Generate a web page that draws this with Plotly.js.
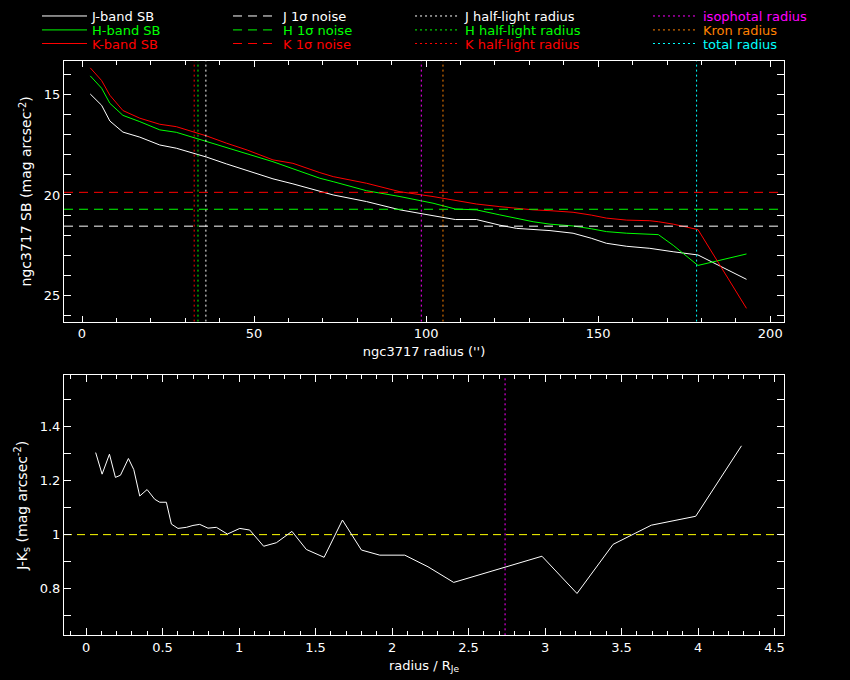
<!DOCTYPE html>
<html>
<head>
<meta charset="utf-8">
<script src="https://cdn.plot.ly/plotly-3.0.1.min.js"></script>
<style>
  body { margin: 0; background: #000; }
  #chart { width: 850px; height: 680px; }
</style>
</head>
<body>
<div id="chart"></div>
<script>
// surface brightness profiles of ngc3717 (radius in arcsec)
const radius = [2.4, 5.7, 8.1, 11.9, 16.8, 22.6, 27.4, 32.3, 36.2, 42.0, 48.0, 55.5, 61.3, 69.1, 73.0, 82.7,
    92.4, 102.0, 108.5, 114.6, 121.4, 126.3, 131.1, 136.0, 142.7, 148.0, 152.4, 158.3, 165.0, 167.5, 171.8, 179.0, 193.1];
const jSB = [14.99, 15.55, 16.33, 16.88, 17.13, 17.52, 17.68, 17.92, 18.12, 18.46, 18.80, 19.20, 19.45, 19.82, 20.00, 20.33,
    20.74, 21.03, 21.22, 21.22, 21.50, 21.66, 21.72, 21.77, 21.90, 22.15, 22.40, 22.55, 22.65, 22.70, 22.82, 22.98, 24.19];
const hSB = [14.09, 14.70, 15.45, 16.05, 16.36, 16.77, 16.89, 17.14, 17.35, 17.63, 17.95, 18.35, 18.70, 19.17, 19.34, 19.79,
    20.08, 20.41, 20.70, 20.74, 20.99, 21.16, 21.33, 21.45, 21.54, 21.68, 21.82, 21.90, 21.95, 21.97, 22.50, 23.50, 22.93];
const kSB = [13.69, 14.32, 15.05, 15.81, 16.19, 16.49, 16.61, 16.86, 17.07, 17.43, 17.77, 18.26, 18.43, 18.89, 19.09, 19.42,
    19.84, 20.08, 20.28, 20.45, 20.58, 20.66, 20.74, 20.78, 20.86, 21.00, 21.15, 21.25, 21.28, 21.33, 21.45, 21.72, 25.63];

// 1 sigma noise levels (J, H, K)
const noiseLevels = [21.55, 20.71, 19.87];
// half-light radii (J, H, K)
const halfLight = [36.0, 33.7, 32.6];
const isoRadius = 98.6;
const kronRadius = 104.9;
const totalRadius = 178.6;

// J-Ks colour profile vs radius / R_Je
const rNorm = [0.063, 0.105, 0.153, 0.192, 0.225, 0.277, 0.312, 0.351, 0.399, 0.449, 0.482, 0.525, 0.558, 0.601,
    0.656, 0.699, 0.743, 0.797, 0.852, 0.924, 1.005, 1.070, 1.161, 1.244, 1.346, 1.440, 1.556, 1.676, 1.800,
    1.920, 2.083, 2.235, 2.403, 2.980, 3.209, 3.445, 3.695, 3.985, 4.284];
const jkColour = [1.304, 1.224, 1.298, 1.212, 1.220, 1.282, 1.241, 1.143, 1.167, 1.131, 1.120, 1.120, 1.039, 1.023,
    1.027, 1.034, 1.038, 1.024, 1.027, 1.002, 1.023, 1.017, 0.957, 0.970, 1.012, 0.945, 0.916, 1.054, 0.943,
    0.924, 0.924, 0.881, 0.823, 0.920, 0.782, 0.964, 1.035, 1.068, 1.329];
const colourRef = 1.0;

const bandNames = ['J', 'H', 'K'];
const bandColors = ['#ffffff', '#00ff00', '#ff0000'];

// axis ranges
const xRangeTop = [-5.23, 204];
const yRangeTop = [26.29, 13.36];
const xRangeBot = [-0.144, 4.562];
const yRangeBot = [0.627, 1.59];

// legend grid: 4 columns x 3 rows, one small legend per entry (paper coords)
const legendColX = [-0.0375, 0.2278, 0.4806, 0.8111];
const legendRowY = [0.9985, 0.978, 0.958];

function label(text, color) {
    return `<span style="color:${color}">${text}</span>`;
}

function legendId(col, row) {
    const n = col * 3 + row + 1;
    return n === 1 ? 'legend' : 'legend' + n;
}

const traces = [];
const sbData = [jSB, hSB, kSB];

// column 1: SB profiles
bandNames.forEach((b, i) => {
    traces.push({
        x: radius, y: sbData[i], type: 'scatter', mode: 'lines',
        line: {color: bandColors[i], width: 1},
        name: label(b + '-band SB', bandColors[i]),
        legend: legendId(0, i), xaxis: 'x', yaxis: 'y'
    });
});
// column 2: noise levels
bandNames.forEach((b, i) => {
    traces.push({
        x: xRangeTop, y: [noiseLevels[i], noiseLevels[i]], type: 'scatter', mode: 'lines',
        line: {color: bandColors[i], width: 1, dash: '9px,6px'},
        name: label(b + ' 1σ noise', bandColors[i]),
        legend: legendId(1, i), xaxis: 'x', yaxis: 'y'
    });
});
// column 3: half-light radii
bandNames.forEach((b, i) => {
    traces.push({
        x: [halfLight[i], halfLight[i]], y: yRangeTop, type: 'scatter', mode: 'lines',
        line: {color: bandColors[i], width: 1, dash: '2px,3px'},
        name: label(b + ' half-light radius', bandColors[i]),
        legend: legendId(2, i), xaxis: 'x', yaxis: 'y'
    });
});
// column 4: other radii
const otherRadii = [isoRadius, kronRadius, totalRadius];
const otherNames = ['isophotal radius', 'Kron radius', 'total radius'];
const otherColors = ['#ff00ff', '#ff8000', '#00ffff'];
otherRadii.forEach((r, i) => {
    traces.push({
        x: [r, r], y: yRangeTop, type: 'scatter', mode: 'lines',
        line: {color: otherColors[i], width: 1, dash: '2px,3px'},
        name: label(otherNames[i], otherColors[i]),
        legend: legendId(3, i), xaxis: 'x', yaxis: 'y'
    });
});

// bottom panel
traces.push({
    x: xRangeBot, y: [colourRef, colourRef], type: 'scatter', mode: 'lines',
    line: {color: '#ffff00', width: 1, dash: '8px,5px'},
    showlegend: false, xaxis: 'x2', yaxis: 'y2'
});
traces.push({
    x: [isoRadius / halfLight[0], isoRadius / halfLight[0]], y: yRangeBot, type: 'scatter', mode: 'lines',
    line: {color: '#ff00ff', width: 1, dash: '2px,3px'},
    showlegend: false, xaxis: 'x2', yaxis: 'y2'
});
traces.push({
    x: rNorm, y: jkColour, type: 'scatter', mode: 'lines',
    line: {color: '#ffffff', width: 1},
    showlegend: false, xaxis: 'x2', yaxis: 'y2'
});

const font = {family: 'DejaVu Sans, sans-serif', size: 13, color: '#ffffff'};
const yTitleFont = {family: font.family, size: 14, color: '#ffffff'};

function axis(extra) {
    return Object.assign({
        showgrid: false, zeroline: false,
        showline: true, linecolor: '#ffffff', linewidth: 1, mirror: 'ticks',
        ticks: 'inside', ticklen: 7, tickcolor: '#ffffff', tickwidth: 1,
        tickfont: font, fixedrange: true
    }, extra);
}

const layout = {
    width: 850, height: 680,
    paper_bgcolor: '#000000', plot_bgcolor: '#000000',
    margin: {l: 64, r: 66, t: 0, b: 0},
    font: font,
    showlegend: true,
    xaxis: axis({
        domain: [0, 1], anchor: 'y', range: xRangeTop, dtick: 50, tick0: 0, ticklen: 6,
        minor: {dtick: 10, ticks: 'inside', ticklen: 4, tickcolor: '#ffffff'},
        title: {text: "ngc3717 radius ('')", font: font, standoff: 6}
    }),
    yaxis: axis({
        domain: [0.527, 0.910], anchor: 'x', range: yRangeTop, dtick: 5, tick0: 0,
        minor: {dtick: 1, ticks: 'inside', ticklen: 7, tickcolor: '#ffffff'},
        title: {text: 'ngc3717 SB (mag arcsec<sup>-2</sup>)', font: yTitleFont, standoff: 8}
    }),
    xaxis2: axis({
        domain: [0, 1], anchor: 'y2', range: xRangeBot, dtick: 0.5, tick0: 0,
        minor: {dtick: 0.1, ticks: 'inside', ticklen: 4, tickcolor: '#ffffff'},
        title: {text: 'radius / R<sub>Je</sub>', font: font, standoff: 6}
    }),
    yaxis2: axis({
        domain: [0.0657, 0.448], anchor: 'x2', range: yRangeBot, dtick: 0.2, tick0: 0,
        minor: {dtick: 0.1, ticks: 'inside', ticklen: 7, tickcolor: '#ffffff'},
        title: {text: 'J-K<sub>s</sub> (mag arcsec<sup>-2</sup>)', font: yTitleFont, standoff: 8}
    })
};

legendColX.forEach((lx, c) => {
    legendRowY.forEach((ly, r) => {
        layout[legendId(c, r)] = {
            x: lx, y: ly, xref: 'paper', yref: 'paper',
            xanchor: 'left', yanchor: 'top',
            bgcolor: 'rgba(0,0,0,0)', borderwidth: 0,
            font: {family: font.family, size: 13, color: '#ffffff'},
            itemwidth: 45, itemclick: false
        };
    });
});

Plotly.newPlot('chart', traces, layout, {displayModeBar: false, staticPlot: true});
</script>
</body>
</html>
